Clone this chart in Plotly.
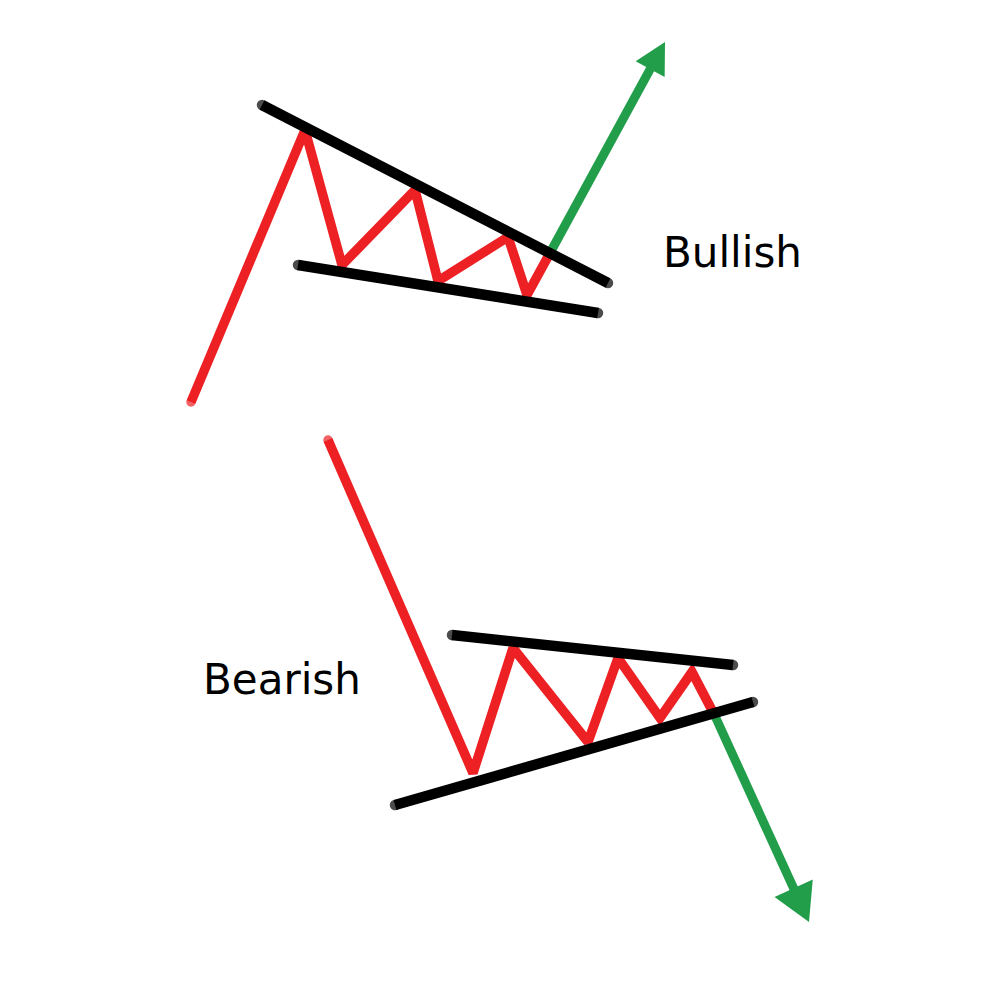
import numpy as np
import plotly.graph_objects as go

# pixel-space coordinates (y grows downward)
bull_price_x = [191, 305, 342, 415, 438, 508, 527, 550]
bull_price_y = [402, 130, 265, 190, 281, 237, 295, 253]
bull_break_x = [550, 665]
bull_break_y = [253, 42]
bull_upper_x = [262, 608]
bull_upper_y = [105, 283]
bull_lower_x = [298, 598]
bull_lower_y = [265, 313]

bear_price_x = [328, 473, 513, 588, 618, 660, 692, 715]
bear_price_y = [440, 773, 648, 742, 658, 718, 672, 716]
bear_break_x = [715, 809]
bear_break_y = [716, 922]
bear_upper_x = [452, 733]
bear_upper_y = [635, 665]
bear_lower_x = [395, 753]
bear_lower_y = [805, 702]

labels = ["Bullish", "Bearish"]
label_x = [732, 282]
label_y = [252, 679]

RED = "#ED2024"
GREEN = "#229E4A"
BLACK = "#000000"

fig = go.Figure()


def add_line(x, y, color, width):
    # end markers give the strokes round caps
    fig.add_trace(go.Scatter(
        x=x, y=y, mode="lines+markers",
        line=dict(color=color, width=width),
        marker=dict(color=color, size=[width] + [0] * (len(x) - 2) + [width],
                    line=dict(width=0)),
        hoverinfo="skip", showlegend=False,
    ))


def add_arrow(x, y, color, width, head_len, head_w):
    # shaft stops at the head base, head is a filled triangle
    tip = np.array([x[-1], y[-1]], float)
    tail = np.array([x[0], y[0]], float)
    d = (tip - tail) / np.linalg.norm(tip - tail)
    n = np.array([-d[1], d[0]])
    base = tip - d * head_len
    fig.add_trace(go.Scatter(
        x=[tail[0], base[0] + d[0] * 2], y=[tail[1], base[1] + d[1] * 2], mode="lines",
        line=dict(color=color, width=width),
        hoverinfo="skip", showlegend=False,
    ))
    p1 = base + n * head_w / 2
    p2 = base - n * head_w / 2
    fig.add_trace(go.Scatter(
        x=[tip[0], p1[0], p2[0], tip[0]], y=[tip[1], p1[1], p2[1], tip[1]],
        mode="lines", fill="toself", fillcolor=color,
        line=dict(color=color, width=0),
        hoverinfo="skip", showlegend=False,
    ))


add_line(bull_price_x, bull_price_y, RED, 9.5)
add_arrow(bull_break_x, bull_break_y, GREEN, 9, 31, 33)
add_line(bull_upper_x, bull_upper_y, BLACK, 10.5)
add_line(bull_lower_x, bull_lower_y, BLACK, 10.5)

add_line(bear_price_x, bear_price_y, RED, 9.5)
add_arrow(bear_break_x, bear_break_y, GREEN, 9, 37, 42)
add_line(bear_upper_x, bear_upper_y, BLACK, 10.5)
add_line(bear_lower_x, bear_lower_y, BLACK, 10.5)

for t, lx, ly in zip(labels, label_x, label_y):
    fig.add_annotation(x=lx, y=ly, text=t, showarrow=False,
                       font=dict(family="DejaVu Sans", size=42, color=BLACK))

# the page body adds an 8px margin, so shift the ranges to compensate
fig.update_xaxes(range=[8, 1008], visible=False)
fig.update_yaxes(range=[1008, 8], visible=False)
fig.update_layout(
    width=1000, height=1000,
    margin=dict(l=0, r=0, t=0, b=0),
    plot_bgcolor="white", paper_bgcolor="white",
)
fig.write_html("out.html")
